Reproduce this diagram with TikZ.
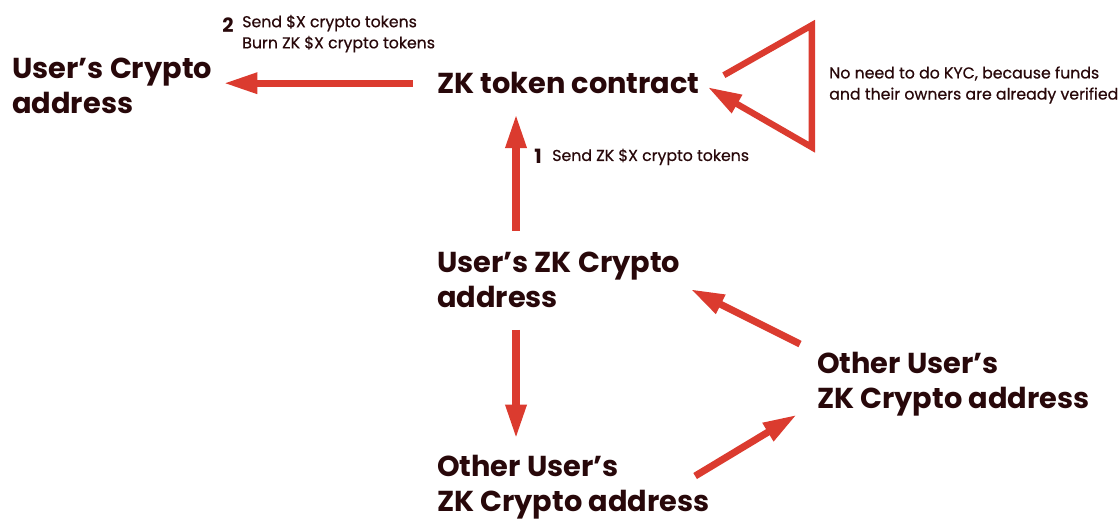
\documentclass[tikz,border=0pt]{standalone}
\usepackage{fontspec}
\setmainfont{Poppins}
\newfontfamily\notefont{Poppins}[FakeBold=0.6]
\usepackage{xcolor}
\usetikzlibrary{arrows.meta}

\definecolor{inkdark}{RGB}{40,8,10}
\definecolor{flowred}{RGB}{219,59,47}

\begin{document}
\begin{tikzpicture}[
  addr/.style={anchor=west,align=left,inner sep=0pt,text=inkdark,font=\fontsize{20.5}{25}\selectfont\bfseries},  note/.style={anchor=west,align=left,inner sep=0pt,text=inkdark,font=\notefont\fontsize{11.2}{15}\selectfont},  stepnum/.style={inner sep=0pt,text=inkdark,font=\fontsize{14}{14}\selectfont\bfseries},  flow/.style={draw=flowred,line width=5pt,-{Triangle[length=24pt,width=14pt]}}
]
  \useasboundingbox (0,0) rectangle (28,-12.975);
  % addresses and the contract
  \node[addr] (ucrypto) at (0.300,-2.140) {User’s Crypto\\address};
  \node[addr] (zkc) at (10.920,-2.080) {ZK token contract};
  \node[addr] (uzk) at (10.920,-6.990) {User’s ZK Crypto\\address};
  \node[addr] (other1) at (20.420,-9.610) {Other User’s\\ZK Crypto address};
  \node[addr] (other2) at (10.920,-12.170) {Other User’s\\ZK Crypto address};
  % step labels
  \node[stepnum] (n2) at (5.700,-0.640) {2};
  \node[note] (lbl2) at (6.050,-0.840) {Send \$X crypto tokens\\Burn ZK \$X crypto tokens};
  \node[stepnum] (n1) at (13.450,-3.920) {1};
  \node[note] (lbl1) at (13.800,-3.920) {Send ZK \$X crypto tokens};
  \node[note] (kyc) at (20.725,-2.125) {No need to do KYC, because funds\\and their owners are already verified};
  % arrows
  \draw[flow,shorten <=0.6cm,shorten >=0.28cm] (zkc.west) -- (zkc.west -| ucrypto.east);
  \draw[flow,shorten <=0.52cm,shorten >=0.5cm] ([xshift=1.98cm]uzk.north west) -- ([xshift=1.98cm]uzk.north west |- zkc.south);
  \draw[flow,shorten <=0.55cm,shorten >=0.4cm] ([xshift=1.98cm]uzk.south west) -- ([xshift=1.98cm]uzk.south west |- other2.north);
  \draw[flow] ([shift={(-0.42,0.2)}]other1.north west) -- ([shift={(0.25,-0.24)}]uzk.east);
  \draw[flow] ([shift={(-0.37,0.27)}]other2.east) -- ([shift={(-0.5,0.05)}]other1.south west);
  \draw[flow,line width=4.5pt,line join=miter] ([shift={(0.6,0.2)}]zkc.east) -- ++(2.2,1.25) -- ++(0,-3.05) -- ([shift={(0.2,-0.1)}]zkc.east);
\end{tikzpicture}
\end{document}
